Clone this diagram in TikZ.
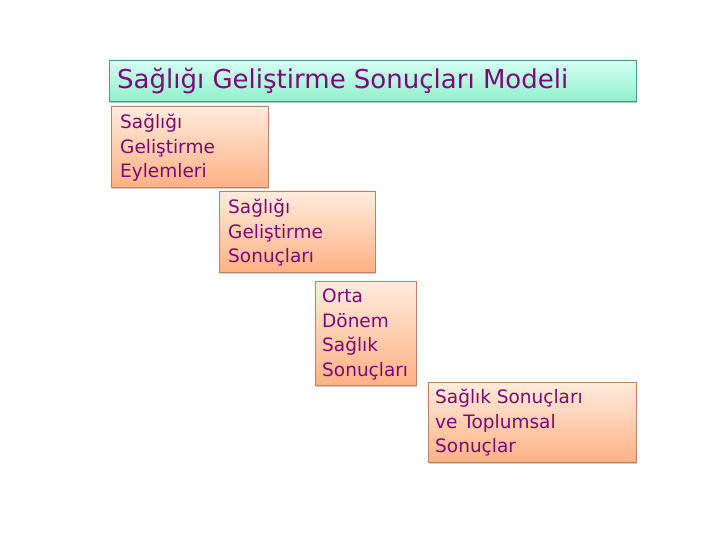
\documentclass[tikz,border=0pt]{standalone}
\usepackage{fontspec}
\setmainfont{DejaVu Sans}
\usetikzlibrary{shadows}
\definecolor{txt}{HTML}{7A0A78}
\definecolor{mintT}{HTML}{D5FFF3}
\definecolor{mintB}{HTML}{92F0CE}
\definecolor{mintD}{HTML}{4E9A82}
\definecolor{peachT}{HTML}{FFECDC}
\definecolor{peachB}{HTML}{FFB185}
\definecolor{peachD}{HTML}{B98567}
\tikzset{
  titlebox/.style={draw=mintD, line width=0.8pt, top color=mintT, bottom color=mintB,
    drop shadow={shadow xshift=1pt, shadow yshift=-2pt, opacity=0.5}},
  stagebox/.style={draw=peachD, line width=0.6pt, top color=peachT, bottom color=peachB,
    drop shadow={shadow xshift=1pt, shadow yshift=-2pt, opacity=0.4}},
  lbl/.style={anchor=north west, text=txt, align=left, inner sep=0pt, font=\fontsize{18.5}{24.5}\selectfont},
}
\begin{document}
\begin{tikzpicture}[x=1pt,y=-1pt]
\useasboundingbox (0,0) rectangle (720,540);
\path[titlebox] (109,60) rectangle (636,101);
\node[anchor=base west, text=txt, inner sep=0pt, font=\fontsize{26}{30}\selectfont] (title) at (117,89) {Sağlığı Geliştirme Sonuçları Modeli};
\path[stagebox] (111,106) rectangle (268,187);
\node[lbl] (b1) at (120,114) {Sağlığı\\Geliştirme\\Eylemleri};
\path[stagebox] (219,191) rectangle (375,272);
\node[lbl] (b2) at (228,199) {Sağlığı\\Geliştirme\\Sonuçları};
\path[stagebox] (315,281) rectangle (416,385);
\node[lbl] (b3) at (322,289) {Orta\\Dönem\\Sağlık\\Sonuçları};
\path[stagebox] (428,382) rectangle (636,462);
\node[lbl] (b4) at (435,389) {Sağlık Sonuçları\\ve Toplumsal\\Sonuçlar};
\end{tikzpicture}
\end{document}
